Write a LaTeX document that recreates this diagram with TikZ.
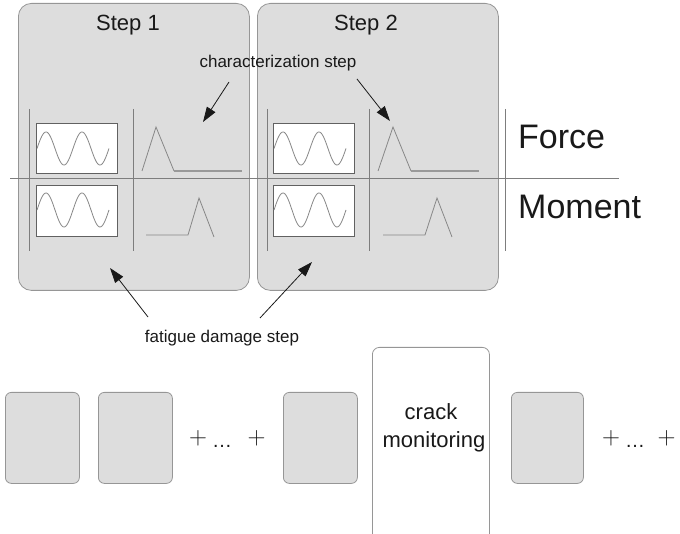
\documentclass[tikz,border=0pt]{standalone}
\usepackage{fontspec}
\setmainfont{Liberation Sans}
\newfontfamily\seriffont{Liberation Serif}
\usetikzlibrary{arrows.meta}
\definecolor{boxfill}{RGB}{221,221,221}
\definecolor{boxline}{RGB}{150,150,150}
\definecolor{sepline}{RGB}{125,125,125}
\definecolor{wave}{RGB}{135,135,135}
\definecolor{ink}{RGB}{25,25,25}
\begin{document}
\begin{tikzpicture}[x=1pt,y=-1pt,
  stepbox/.style={draw=boxline, fill=boxfill, rounded corners=13pt, line width=0.8pt, inner sep=0pt, anchor=north west},
  smallbox/.style={draw=boxline, fill=boxfill, rounded corners=6pt, line width=0.8pt, inner sep=0pt, anchor=north west, minimum width=74pt, minimum height=91pt},
  sigbox/.style={draw=black!62, fill=white, line width=1pt, inner sep=0pt, anchor=north west, minimum width=81pt},
  sep/.style={draw=sepline, line width=0.8pt},
  curve/.style={draw=wave, line width=0.8pt},
  flat/.style={draw=black!40, line width=1.6pt},
  lbl/.style={font=\fontsize{17}{20}\selectfont, text=ink, inner sep=0pt, anchor=base},
  steplbl/.style={font=\fontsize{22}{26}\selectfont, text=ink, inner sep=0pt, anchor=base},
  big/.style={font=\fontsize{34}{40}\selectfont, text=ink, inner sep=0pt, anchor=west},
  crk/.style={font=\fontsize{22}{27}\selectfont, text=ink, inner sep=0pt, anchor=base},
  plus/.style={font=\fontsize{30}{36}\selectfont, text=ink, inner sep=0pt},
  dots/.style={font=\fontsize{20}{24}\selectfont, text=ink, inner sep=0pt, anchor=base},
  arr/.style={-{Triangle[length=15pt,width=10pt]}, line width=0.8pt, draw=ink}]
\useasboundingbox (0,0) rectangle (680,534);

% step boxes
\node[stepbox, minimum width=231pt, minimum height=287pt] (s1) at (18,3) {};
\node[stepbox, minimum width=241pt, minimum height=287pt] (s2) at (257,3) {};
\node[steplbl] (s1t) at (128,31) {Step 1};
\node[steplbl] (s2t) at (366,31) {Step 2};

% grid lines
\draw[sep] (10,178) -- (619,178);
\foreach \xx in {29,133,267,369,505} { \draw[sep] (\xx,109) -- (\xx,251); }

% signal boxes
\node[sigbox, minimum height=50pt] (f1) at (36,123) {};
\node[sigbox, minimum height=51pt] (m1) at (36,185) {};
\node[sigbox, minimum height=50pt] (f2) at (273,123) {};
\node[sigbox, minimum height=51pt] (m2) at (273,185) {};
\draw[curve] plot[domain=37:109, samples=90, smooth] (\x, {148.5 - 16.5*sin(10*(\x-37))});
\draw[curve] plot[domain=37:109, samples=90, smooth] (\x, {210 - 17*sin(10*(\x-37))});
\draw[curve] plot[domain=274:346, samples=90, smooth] (\x, {148.5 - 16.5*sin(10*(\x-274))});
\draw[curve] plot[domain=274:346, samples=90, smooth] (\x, {210 - 17*sin(10*(\x-274))});

% characterization pulses
\draw[curve] (142,171) -- (156,127) -- (174,171);
\draw[flat] (174,171) -- (242,171);
\draw[curve] (146,235) -- (188,235) -- (199,198) -- (214,237);
\draw[curve] (378,171) -- (393,127) -- (411,171);
\draw[flat] (411,171) -- (479,171);
\draw[curve] (383,235) -- (425,235) -- (437,198) -- (452,237);

% labels and arrows
\node[lbl] (cs) at (278,68) {characterization step};
\coordinate (ca1) at (229,82); \coordinate (ct1) at (203,122);
\coordinate (ca2) at (357,79); \coordinate (ct2) at (390,121);
\draw[arr] (ca1) -- (ct1);
\draw[arr] (ca2) -- (ct2);

\node[lbl] (fd) at (222,343) {fatigue damage step};
\coordinate (fa1) at (148,317); \coordinate (ft1) at (110,268);
\coordinate (fa2) at (260,318); \coordinate (ft2) at (312,262);
\draw[arr] (fa1) -- (ft1);
\draw[arr] (fa2) -- (ft2);

\node[big] (force) at (518,136.5) {Force};
\node[big] (moment) at (518,206.5) {Moment};

% bottom row
\node[smallbox] (b1) at (5,392) {};
\node[smallbox] (b2) at (98,392) {};
\node[smallbox] (b3) at (283,392) {};
\node[smallbox, minimum width=72pt] (b4) at (511,392) {};
\begin{scope}
  \clip (0,0) rectangle (680,534);
  \node[draw=boxline, fill=white, rounded corners=7pt, line width=0.8pt, inner sep=0pt, anchor=north west, minimum width=117pt, minimum height=220pt] (cm) at (372,347) {};
  \node[font=\seriffont\fontsize{32}{38}\selectfont, text=ink, inner sep=0pt, anchor=base west] (cap) at (4,561) {in each loading step with fatigue load the crack length is};
\end{scope}
\node[crk] (crack) at (431,420) {crack};
\node[crk] (mon) at (434,447) {monitoring};

\node[plus] (p1) at (198,438.5) {$+$};
\node[dots] (d1) at (222,447) {…};
\node[plus] (p2) at (256.5,438.5) {$+$};
\node[plus] (p3) at (611,438.5) {$+$};
\node[dots] (d2) at (635,447) {…};
\node[plus] (p4) at (666.5,438.5) {$+$};
\end{tikzpicture}
\end{document}
